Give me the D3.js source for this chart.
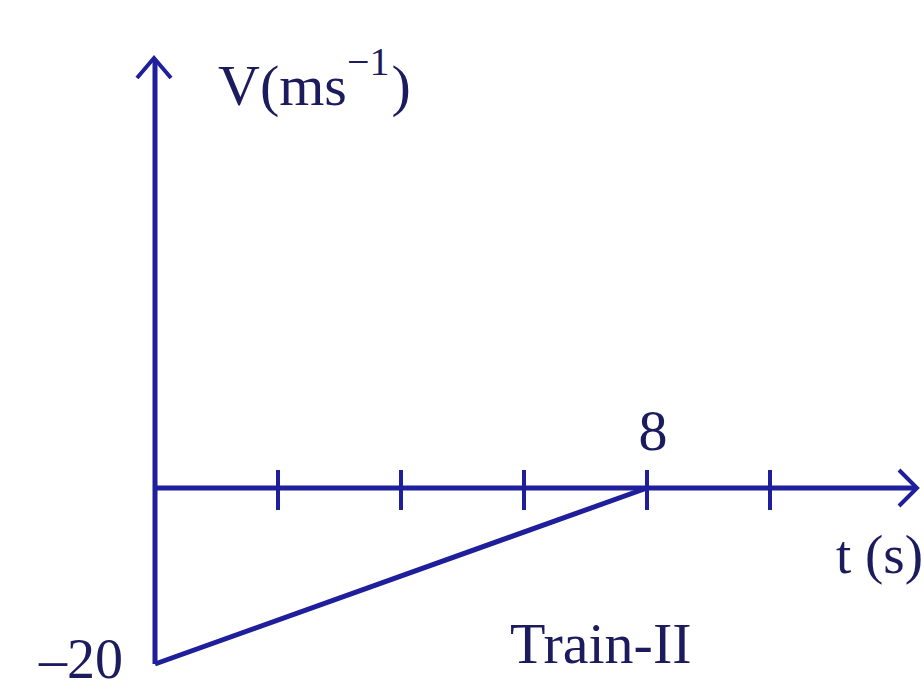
<!DOCTYPE html>
<html><head><meta charset="utf-8">
<script src="https://cdn.jsdelivr.net/npm/d3@7"></script>
<style>html,body{margin:0;padding:0;background:#fff;}svg{display:block;}</style>
</head><body>
<svg id="c" width="924" height="691"></svg>
<script>
// Data
const times = [0, 8];
const velocities = [-20, 0];
const tickValues = [0, 2, 4, 6, 8, 10];
const labeledTicks = [8];
const yTickLabels = [-20];
const seriesName = "Train-II";

const svg = d3.select("#c");
const axisColor = "#1f1f9b";
const textColor = "#1b1b5e";
const font = "'Liberation Serif','Times New Roman',serif";

const x = d3.scaleLinear().domain([0, 8]).range([155, 647]);
const y = d3.scaleLinear().domain([-20, 0]).range([664, 488]);

const g = svg.append("g");

// axes lines
g.append("line").attr("x1", x(0)).attr("x2", 916).attr("y1", y(0)).attr("y2", y(0))
  .attr("stroke", axisColor).attr("stroke-width", 5);
g.append("path").attr("d", `M${899},${y(0)-18}L${917},${y(0)}L${899},${y(0)+18}`)
  .attr("fill", "none").attr("stroke", axisColor).attr("stroke-width", 4);
g.append("line").attr("x1", x(0)).attr("x2", x(0)).attr("y1", y(-20)).attr("y2", 60)
  .attr("stroke", axisColor).attr("stroke-width", 5);
g.append("path").attr("d", `M${x(0)-18},${78}L${x(0)-1},${58}L${x(0)+16},${78}`)
  .attr("fill", "none").attr("stroke", axisColor).attr("stroke-width", 4);

// ticks
g.selectAll(".tk").data(tickValues.filter(d => d > 0)).join("line")
  .attr("x1", d => x(d)).attr("x2", d => x(d))
  .attr("y1", y(0) - 18).attr("y2", y(0) + 22)
  .attr("stroke", axisColor).attr("stroke-width", 4);

// data line
const line = d3.line().x((d, i) => x(times[i])).y((d, i) => y(velocities[i]));
g.append("path").datum(velocities).attr("d", line)
  .attr("fill", "none").attr("stroke", axisColor).attr("stroke-width", 5)
  .attr("stroke-linejoin", "miter");

// labels
const t = (s, fs) => g.append("text").attr("font-family", font).attr("fill", textColor).attr("font-size", fs || 58).text(s);
labeledTicks.forEach(v => t(String(v)).attr("x", x(v) + 6).attr("y", 450).attr("text-anchor", "middle"));
yTickLabels.forEach(v => t("\u2013" + Math.abs(v), 56).attr("x", 123).attr("y", 678).attr("text-anchor", "end"));
t("t (s)", 55).attr("x", 836).attr("y", 573);
t(seriesName).attr("x", 510).attr("y", 663);

const yl = g.append("text").attr("font-family", font).attr("fill", textColor).attr("font-size", 58)
  .attr("x", 218).attr("y", 105);
yl.append("tspan").text("V(ms");
yl.append("tspan").attr("font-size", 40).attr("dy", -30).text("\u22121");
yl.append("tspan").attr("dy", 30).attr("dx", 2).text(")");
</script>
</body></html>
